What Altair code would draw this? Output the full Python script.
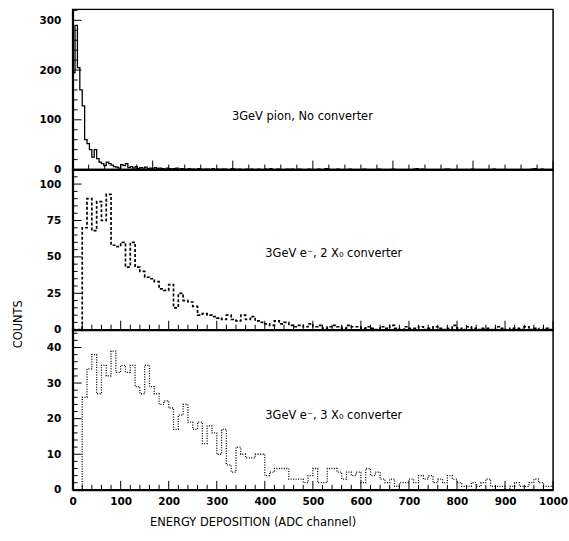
import altair as alt
import pandas as pd

# ---- data -----------------------------------------------------------------
# 3 GeV pion, no converter: 3-channel bins covering 0-600
PION_BIN = 3
pion_head = [195, 290, 205, 160, 128, 60, 52, 40, 25, 40, 22, 15, 12, 8, 15, 12,
             9, 6, 5, 3, 10, 8, 12, 4, 6, 3]
pion_tail_a = [6, 2, 4, 3, 5, 2, 3, 1, 4, 2, 3, 2, 1, 3, 2, 1, 2, 3, 1, 2, 1, 0, 2, 1]
pion_tail_b = [1, 0, 2, 1, 0, 1, 1, 0, 2, 0, 1, 0, 1, 1, 0, 0, 2, 1, 0, 1,
               0, 0, 1, 0, 1, 0, 0, 1, 0, 0, 1, 0, 2, 0, 0, 1, 0, 0, 0, 1,
               0, 1, 0, 0, 1, 0, 0, 0, 1, 0]
pion_tail_c = [0, 0, 1, 0, 0, 2, 1, 0, 0, 0, 1, 0, 0, 0, 0, 1, 0, 0, 0, 0,
               0, 1, 0, 0, 0, 0, 0, 1, 0, 0, 0, 0, 0, 1, 0, 0, 0, 0, 0, 0,
               0, 0, 1, 2, 0, 1, 0, 0, 0, 0, 0, 0, 0, 0, 0, 1, 1, 0, 0, 0,
               0, 0, 0, 0, 0, 0, 1, 0, 0, 0, 0, 0, 0, 0, 0, 1, 0, 0, 0, 0,
               0, 0, 0, 0, 0, 0, 0, 0, 0, 0, 0, 1, 2, 0, 0, 1, 0, 0, 0, 0]
pion_counts = pion_head + pion_tail_a + pion_tail_b + pion_tail_c

# 3 GeV electrons behind 2 X0 and 3 X0 converters: 10-channel bins over 0-1000
E_BIN = 10
e2x0_counts = [0, 0, 70, 90, 68, 88, 75, 93, 58, 57,
               60, 43, 60, 43, 40, 36, 35, 33, 28, 27,
               31, 15, 25, 20, 19, 16, 10, 11, 10, 9,
               8, 7, 10, 7, 6, 10, 7, 9, 6, 5,
               4, 3, 6, 4, 5, 3, 2, 3, 2, 4,
               2, 3, 1, 2, 3, 2, 1, 3, 2, 2,
               1, 2, 1, 0, 2, 1, 3, 1, 0, 2,
               1, 1, 2, 0, 1, 2, 1, 0, 1, 3,
               1, 0, 2, 1, 0, 1, 1, 0, 2, 1,
               0, 1, 1, 0, 2, 0, 1, 0, 1, 0]
e3x0_counts = [0, 0, 26, 34, 38, 27, 35, 32, 39, 33,
               35, 33, 35, 29, 27, 35, 29, 27, 24, 25,
               23, 17, 21, 24, 19, 17, 19, 13, 18, 16,
               10, 17, 7, 5, 12, 10, 9, 9, 10, 10,
               4, 5, 6, 6, 6, 3, 3, 3, 2, 4,
               6, 2, 2, 6, 6, 5, 3, 5, 4, 5,
               2, 6, 4, 5, 3, 2, 3, 1, 2, 2,
               3, 2, 4, 3, 4, 2, 3, 2, 4, 3,
               2, 1, 1, 2, 1, 2, 3, 1, 1, 1,
               0, 1, 2, 1, 1, 2, 3, 2, 1, 1]

labels = ["3GeV pion, No converter",
          "3GeV e\u207b, 2 X\u2080 converter",
          "3GeV e\u207b, 3 X\u2080 converter"]

# ---- styling ----------------------------------------------------------------
W, H = 483, 161
NUM_FONT = "DejaVu Sans"
TXT_FONT = "DejaVu Sans"
NUM_SIZE = 10.5
TXT_SIZE = 11.5
MAJOR_LEN, MINOR_LEN = 9, 5


def step_frame(counts, width):
    edges = [i * width for i in range(len(counts) + 1)]
    return pd.DataFrame({"x": edges, "y": list(counts) + [counts[-1]]})


def panel(counts, width, xmax, ymax, ymajor, yminor, label, lx, ly,
          line_kw, x_axis, y_title=None, y_title_kw=None):
    xs = alt.Scale(domain=[0, xmax], nice=False, zero=False)
    ys = alt.Scale(domain=[0, ymax], nice=False, zero=False)

    y_axis_kw = dict(values=ymajor, format="d", ticks=False, tickSize=0,
                     domain=True, domainColor="black", domainWidth=2,
                     labelFont=NUM_FONT, labelFontWeight="bold",
                     labelFontSize=NUM_SIZE, labelColor="black",
                     labelPadding=12, grid=False, title=y_title)
    if y_title_kw:
        y_axis_kw.update(y_title_kw)
    y_axis = alt.Axis(**y_axis_kw)

    hist = alt.Chart(step_frame(counts, width)).mark_line(
        interpolate="step-after", color="black", clip=True, **line_kw
    ).encode(
        x=alt.X("x:Q", scale=xs, axis=x_axis),
        y=alt.Y("y:Q", scale=ys, axis=y_axis),
    )

    # inward tick marks on the left and bottom edges
    xmajor = list(range(0, xmax + 1, 100))
    xminor = [v for v in range(0, xmax + 1, 20) if v % 100]
    ymin_vals = [v for v in yminor if v not in ymajor]

    def yticks(vals, length):
        return alt.Chart(pd.DataFrame({"v": vals})).mark_rule(
            color="black", strokeWidth=1
        ).encode(y=alt.Y("v:Q", scale=ys, axis=y_axis),
                 x=alt.value(0), x2=alt.value(length))

    def xticks(vals, length):
        return alt.Chart(pd.DataFrame({"v": vals})).mark_rule(
            color="black", strokeWidth=1
        ).encode(x=alt.X("v:Q", scale=xs, axis=x_axis),
                 y=alt.value(H), y2=alt.value(H - length))

    text = alt.Chart(pd.DataFrame({"x": [lx], "y": [ly], "t": [label]})).mark_text(
        align="left", baseline="middle", font=TXT_FONT, fontSize=TXT_SIZE,
        color="black"
    ).encode(x=alt.X("x:Q", scale=xs, axis=x_axis),
             y=alt.Y("y:Q", scale=ys, axis=y_axis), text="t:N")

    return alt.layer(
        hist,
        yticks(ymajor, MAJOR_LEN), yticks(ymin_vals, MINOR_LEN),
        xticks(xmajor, MAJOR_LEN), xticks(xminor, MINOR_LEN),
        text,
    ).properties(width=W, height=H)


plain_x = alt.Axis(labels=False, ticks=False, tickSize=0, domain=True,
                   domainColor="black", domainWidth=2, grid=False, title=None)
labelled_x = alt.Axis(values=list(range(0, 1001, 100)), format="d",
                      ticks=False, tickSize=0, domain=True, domainColor="black",
                      domainWidth=2, labelFont=NUM_FONT, labelFontWeight="bold",
                      labelFontSize=NUM_SIZE, labelColor="black", labelPadding=7,
                      labelFlush=False, grid=False,
                      title="ENERGY DEPOSITION (ADC channel)",
                      titleFont=TXT_FONT, titleFontWeight="normal",
                      titleFontSize=TXT_SIZE, titleColor="black",
                      titleX=181, titleY=33, titleAlign="center",
                      titleBaseline="middle")

p1 = panel(pion_counts, PION_BIN, 600, 322, [0, 100, 200, 300],
           list(range(0, 321, 20)), labels[0], 199, 106,
           dict(strokeWidth=1.3), plain_x)
p2 = panel(e2x0_counts, E_BIN, 1000, 110, [0, 25, 50, 75, 100],
           list(range(0, 111, 5)), labels[1], 401, 52,
           dict(strokeWidth=1.7, strokeDash=[3, 2]), plain_x,
           y_title="COUNTS",
           y_title_kw=dict(titleFont=TXT_FONT, titleFontWeight="normal",
                           titleFontSize=TXT_SIZE, titleColor="black",
                           titleAngle=270, titleX=-54, titleY=155,
                           titleAlign="center", titleBaseline="middle"))
p3 = panel(e3x0_counts, E_BIN, 1000, 45, [0, 10, 20, 30, 40],
           list(range(0, 45, 2)), labels[2], 401, 20.7,
           dict(strokeWidth=1.3, strokeDash=[1, 1.5]), labelled_x)

chart = alt.vconcat(p1, p2, p3, spacing=0, bounds="flush").properties(
    padding={"left": 12, "top": 7, "right": 0, "bottom": 10},
    background="white",
).configure_view(stroke="black", strokeWidth=1.5)

chart.save("out.html", embed_options={"renderer": "svg", "actions": False})
